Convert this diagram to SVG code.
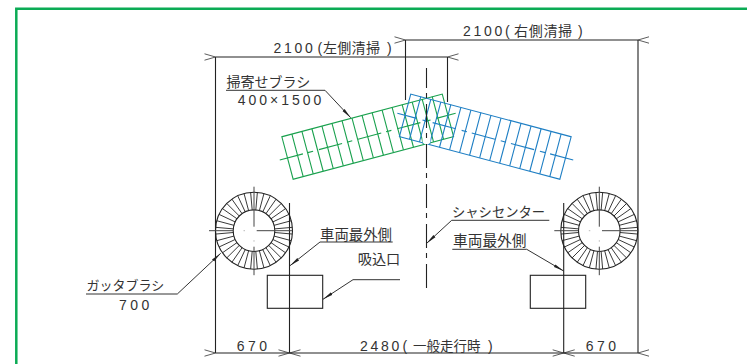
<svg xmlns="http://www.w3.org/2000/svg" width="747" height="364" viewBox="0 0 747 364">
<style>
.ln{fill:none;stroke:#222;stroke-width:1.1}
.sp{fill:none;stroke:#222;stroke-width:0.9}
.ld{fill:none;stroke:#333;stroke-width:1}
.tx{font-family:"Liberation Sans","Noto Sans CJK JP",sans-serif;font-size:14px;fill:#333}
.jp{font-family:"Noto Sans CJK JP",sans-serif;font-size:14px;fill:#333}
.g{stroke:#1aa14e;fill:none;stroke-width:1.1}
.b{stroke:#1f7fc4;fill:none;stroke-width:1.1}
</style>
<defs>
<marker id="open" viewBox="0 0 12 8" refX="0.5" refY="4" markerWidth="12" markerHeight="8" markerUnits="userSpaceOnUse" orient="auto-start-reverse"><path d="M11.5 0.8L0.5 4L11.5 7.2" fill="none" stroke="#333" stroke-width="0.8"/></marker>
<marker id="fill" viewBox="0 0 11 5" refX="10.5" refY="2.5" markerWidth="11" markerHeight="5" markerUnits="userSpaceOnUse" orient="auto"><path d="M0 1L10.5 2.5L0 4Z" fill="#222"/></marker>
<path id="q" class="sp" d="M1.81-20.72L3.36-38.35M5.38-20.09L9.96-37.19M8.79-18.85L16.27-34.89M11.93-17.04L22.08-31.54M14.71-14.71L27.22-27.22M17.04-11.93L31.54-22.08M18.85-8.79L34.89-16.27M20.09-5.38L37.19-9.96M20.72-1.81L38.35-3.36"/>
<g id="brush">
<rect x="0" y="-22" width="166" height="44"/>
<path d="M10.4-22V22M20.75-22V22M31.1-22V22M41.5-22V22M51.9-22V22M62.25-22V22M72.6-22V22M83-22V22M93.4-22V22M103.75-22V22M114.1-22V22M124.5-22V22M134.9-22V22M145.25-22V22M155.6-22V22"/>
<path d="M-8 0H174" stroke-dasharray="24 5 5.5 6"/>
</g>
<g id="wheel">
<circle r="38.5" class="ln"/><circle r="20.8" class="ln"/>
<use href="#q"/><use href="#q" transform="rotate(90)"/><use href="#q" transform="rotate(180)"/><use href="#q" transform="rotate(270)"/>
<path d="M-45 0H-21M2.7 0H38.5M0-44V-4M0 16V44.500" fill="none" stroke="#444" stroke-width="1"/>
<path d="M-10.500 0h1.500M0 9.500v1.500" stroke="#bbb" stroke-width="1"/>
</g>
</defs>
<path d="M16.300 364V8.800H747" fill="none" stroke="#0bab55" stroke-width="2.500"/>
<g id="brush-left"><use href="#brush" class="g" transform="translate(287.500 158) rotate(-14.900)"/></g>
<g id="brush-right"><use href="#brush" class="b" transform="translate(565.500 158) rotate(194.900) scale(1 -1)"/></g>
<path d="M426.500 124C428 132 430.500 137 430.500 141C430.500 145.500 422.500 145.500 422.500 141C422.500 137 425 132 426.500 124Z" fill="#fff"/>
<g id="connectors">
<path class="ln" d="M215.500 57V353M405.500 40V100M447.500 57V102M638 40V353M289.500 203V353M563.700 203V353"/>
<path class="ln" d="M215.500 57H447.500" marker-start="url(#open)" marker-end="url(#open)"/>
<path class="ln" d="M405.500 40H638" marker-start="url(#open)" marker-end="url(#open)"/>
<path class="ln" d="M215.500 353H289.500" marker-start="url(#open)" marker-end="url(#open)"/>
<path class="ln" d="M289.500 353H563.700" marker-start="url(#open)" marker-end="url(#open)"/>
<path class="ln" d="M563.700 353H638" marker-start="url(#open)" marker-end="url(#open)"/>
<path class="ln" d="M426.500 68V288" stroke-dasharray="24 5 5 6" stroke-dashoffset="4"/>
<path class="ld" d="M226 90.300H325L350.700 117.700" marker-end="url(#fill)"/>
<path class="ld" d="M86 294H177.300L220.700 253.300" marker-end="url(#fill)"/>
<path class="ld" d="M392.700 242H320L290 265.700" marker-end="url(#fill)"/>
<path class="ld" d="M400 279.700H353L323 299.300" marker-end="url(#fill)"/>
<path class="ld" d="M549.300 220.300H451.700L426.700 243.300" marker-end="url(#fill)"/>
<path class="ld" d="M452.300 249.300H526.700L563.700 271" marker-end="url(#fill)"/>
</g>
<g id="wheel-left"><use href="#wheel" transform="translate(254 230.700)"/></g>
<g id="wheel-right"><use href="#wheel" transform="translate(599.300 230.700)"/></g>
<g id="box-left"><rect class="ln" x="267.300" y="275.300" width="55.400" height="33"/></g>
<g id="box-right"><rect class="ln" x="530.300" y="275.300" width="55.400" height="33"/></g>
<g id="labels">
<text class="tx" y="53"><tspan x="273.500" letter-spacing="2.700">2100</tspan><tspan x="317.500">(</tspan><tspan x="323" letter-spacing="0.300">左側清掃</tspan><tspan x="387">)</tspan></text>
<text class="tx" y="36"><tspan x="463" letter-spacing="2.700">2100</tspan><tspan x="505">(</tspan><tspan x="514" letter-spacing="0.700">右側清掃</tspan><tspan x="578">)</tspan></text>
<text class="jp" x="226.500" y="87">掃寄せブラシ</text>
<text class="tx" x="237.700" y="105" letter-spacing="3">400×1500</text>
<text class="jp" x="86.500" y="289.500" style="font-size:13px">ガッタブラシ</text>
<text class="tx" x="119" y="310" letter-spacing="3.500">700</text>
<text class="jp" x="320" y="239.500" style="font-size:14.400px">車両最外側</text>
<text class="jp" x="357.700" y="264" style="font-size:14.200px">吸込口</text>
<text class="jp" x="452" y="217" style="font-size:13.300px">シャシセンター</text>
<text class="jp" x="453" y="246" style="font-size:14.700px">車両最外側</text>
<text class="tx" x="236.700" y="350.500" letter-spacing="3.500">670</text>
<text class="tx" y="350.500"><tspan x="360" letter-spacing="2.700">2480</tspan><tspan x="402.500">(</tspan><tspan x="413" style="font-size:13.500px">一般走行時</tspan><tspan x="488">)</tspan></text>
<text class="tx" x="585.700" y="350.500" letter-spacing="3.500">670</text>
</g>
</svg>
